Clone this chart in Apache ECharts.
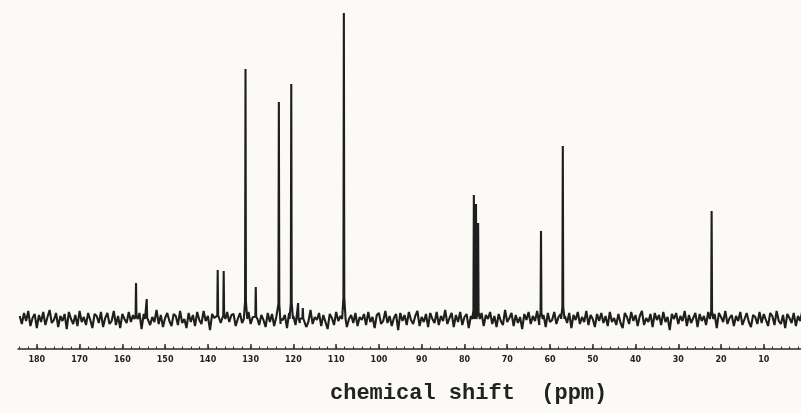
<!DOCTYPE html>
<html>
<head>
<meta charset="utf-8">
<script src="https://cdn.jsdelivr.net/npm/echarts@6/dist/echarts.min.js"></script>
<style>
html,body{margin:0;padding:0;background:#fbfaf7;}
#chart{width:801px;height:413px;}
</style>
</head>
<body>
<div id="chart"></div>
<script>
// Peak positions (ppm) and heights (arbitrary units above baseline)
const peakPpm    = [156.8, 154.3, 137.7, 136.3, 131.2, 128.8, 123.4, 120.5, 118.9, 117.8, 108.2, 77.8, 77.3, 76.8, 62.1, 57.0, 22.2];
const peakHeight = [36,    20,    49,    48,    250,   32,    217,   235,   16,    11,    306,   124,  115,  96,   88,   173,  108];

// Baseline noise, read approximately: starts at 184 ppm, one value every 0.5 ppm
const noiseStartPpm = 184;
const noiseStepPpm = 0.5;
const noiseValues = [
 3,-5,6,-2,8,-7,1,5,-9,4,-3,7,-6,2,9,-4,-1,6,-8,3,
 -2,5,-10,7,0,-5,4,-7,8,-3,2,-6,6,-1,-9,5,3,-4,7,-8,
 1,6,-5,-2,8,-6,3,-9,5,0,-4,7,-3,4,-7,2,6,-10,5,-1,
 7,-6,2,-3,9,-5,4,-8,1,6,-2,-7,5,3,-6,8,-4,0,-9,6,
 -3,4,-7,7,-1,-5,8,-2,3,-11,5,1,-6,6,-4,2,-8,7,-3,4,
 5,-7,0,6,-4,-9,3,7,-5,2,-2,8,-6,4,-1,-8,6,-3,5,-7,
 2,8,-5,-1,4,-9,6,-2,3,-6,7,-4,1,5,-8,-3,9,-5,2,-1,
 6,-7,4,-3,-10,5,1,-6,7,-2,3,-5,8,-8,0,4,-4,6,-7,2,
 -1,5,-6,7,-3,2,-9,4,6,-5,-2,8,-4,3,-7,1,5,-11,6,-2,
 4,-6,7,-1,-5,3,8,-7,2,-3,5,-8,6,0,-4,7,-6,3,-2,9,
 -5,1,6,-8,4,-3,7,-6,2,5,-9,3,-1,8,-4,-2,6,-7,4,0,
 7,-5,3,-8,5,-2,-6,9,-3,1,6,-7,4,-4,2,-10,5,-1,7,-5,
 3,-2,8,-6,1,4,-8,6,-3,-1,7,-5,2,5,-7,3,-4,6,-9,4,
 -1,7,-5,2,-3,8,-6,4,0,-8,5,-2,6,-4,3,-7,7,-3,1,-6,
 5,-4,-9,6,2,-5,7,-2,4,-7,3,8,-6,1,-3,5,-8,6,-1,4,
 -6,7,-3,2,-11,5,0,6,-5,3,-2,8,-7,4,-4,1,6,-8,5,-2,
 3,-6,7,-1,-4,5,-9,6,2,-3,8,-5,1,4,-7,3,-2,7,-6,0,
 6,-3,-8,4,2,-5,7,-4,5,-1,-7,6,3,-6,8,-2,-5,4,-9,5,
 1,-4,6,-7,3,-2,8,-5,0,5,-8,4,-3,7,-1,-6,2,6,-4,3
];

// Axis tick labels (ppm)
const tickLabels = [180,170,160,150,140,130,120,110,100,90,80,70,60,50,40,30,20,10];
const minorTicks = [];
for (let v = 184; v >= 2; v -= 2) minorTicks.push(v);

const axisTitle = 'chemical shift  (ppm)';

// Build the spectrum trace from the arrays
const pts = [];
noiseValues.forEach((v, i) => {
  const ppm = noiseStartPpm - i * noiseStepPpm;
  const nearPeak = peakPpm.some(p => Math.abs(p - ppm) < 0.35);
  if (!nearPeak) pts.push([ppm, v]);
});
peakPpm.forEach((p, i) => {
  const h = peakHeight[i];
  pts.push([p + 0.4, 0]);
  pts.push([p + 0.1, h * 0.07]);
  pts.push([p, h]);
  pts.push([p - 0.1, h * 0.07]);
  pts.push([p - 0.4, 0]);
});
pts.sort((a, b) => b[0] - a[0]);

const chart = echarts.init(document.getElementById('chart'), null, {renderer: 'canvas'});
chart.setOption({
  backgroundColor: '#fbfaf7',
  animation: false,
  title: {
    text: axisTitle,
    left: 325,
    top: 377,
    textStyle: {fontFamily: 'Liberation Mono', fontSize: 22, fontWeight: 'bold', color: '#222', lineHeight: 22}
  },
  grid: {left: 18, right: 0, top: 10, bottom: 64},
  xAxis: [{
    type: 'value',
    inverse: true,
    min: 1.3,
    max: 184.4,
    axisLine: {show: true, onZero: false, lineStyle: {color: '#2a2a2a', width: 1.5}},
    axisTick: {show: true, inside: true, length: 5, customValues: tickLabels, lineStyle: {color: '#2a2a2a', width: 1.5}},
    axisLabel: {show: true, customValues: tickLabels, fontSize: 8, fontWeight: 'bold', color: '#222', margin: 7, fontFamily: 'DejaVu Sans'},
    splitLine: {show: false}
  }, {
    type: 'value',
    inverse: true,
    min: 1.3,
    max: 184.4,
    position: 'bottom',
    axisLine: {show: false, onZero: false},
    axisTick: {show: true, inside: true, length: 2.5, customValues: minorTicks, lineStyle: {color: '#2a2a2a', width: 1}},
    axisLabel: {show: false},
    splitLine: {show: false}
  }],
  yAxis: {
    type: 'value',
    min: -30,
    max: 309,
    show: false
  },
  series: [{
    type: 'line',
    data: pts,
    showSymbol: false,
    symbol: 'none',
    lineStyle: {color: '#1e1e1e', width: 2.1},
    clip: true
  }]
});
</script>
</body>
</html>
